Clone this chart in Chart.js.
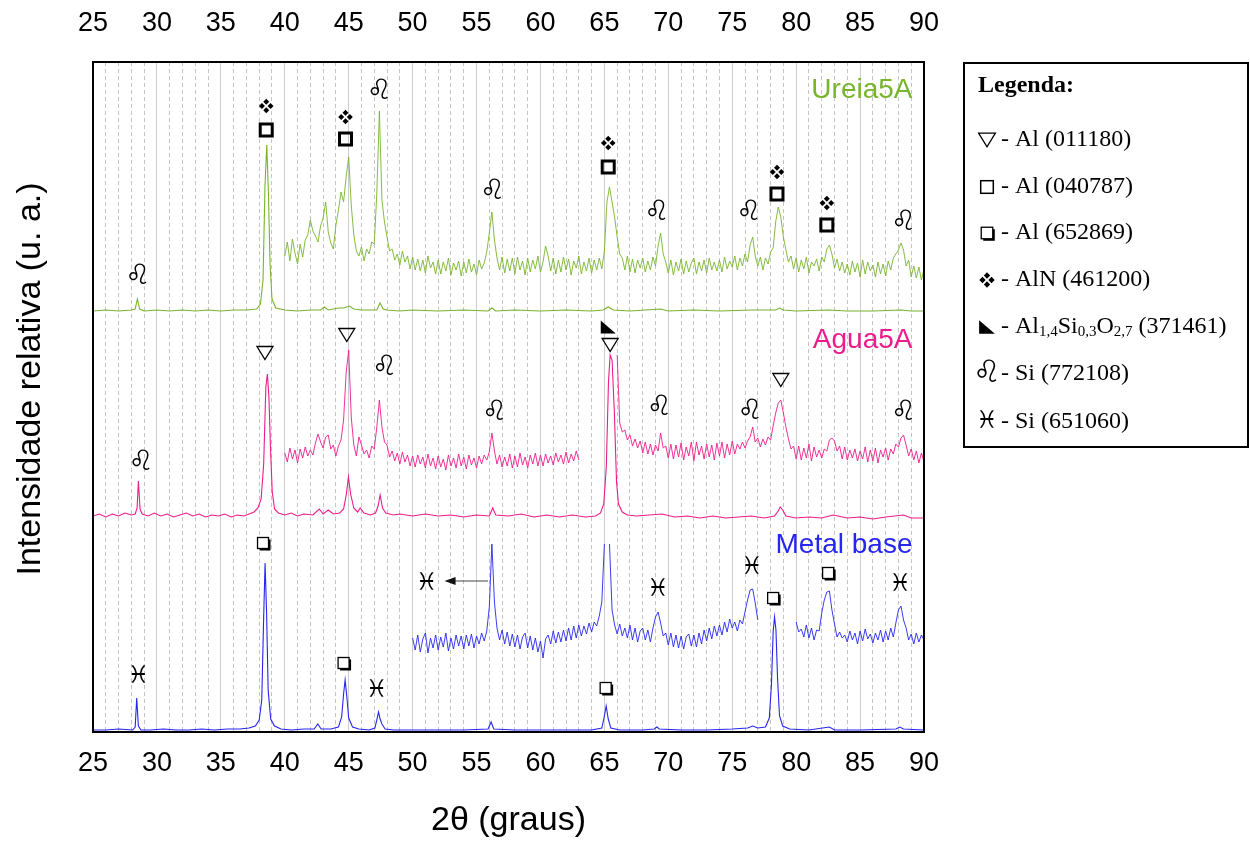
<!DOCTYPE html>
<html>
<head>
<meta charset="utf-8">
<script src="https://cdn.jsdelivr.net/npm/chart.js@4.4.1/dist/chart.umd.min.js"></script>
<style>
  html, body { margin: 0; background: #fff; }
  #wrap { width: 1250px; height: 841px; position: relative; }
</style>
</head>
<body>
<div id="wrap"><canvas id="xrdChart"></canvas></div>
<script>
// eixo 2θ
const xTicks = [25, 30, 35, 40, 45, 50, 55, 60, 65, 70, 75, 80, 85, 90];

// difratogramas completos: [2θ, intensidade]
const ureiaFull = [[25,421],[26,422],[27,421],[28.0,422],[28.3,423],[28.47,433],[28.65,423],[29,421],[30,422],[31,421],[32,422],[33,421],[34,422],[35,421],[36,422],[37,422],[37.8,423],[38.1,428],[38.3,452],[38.45,545],[38.59,587],[38.72,540],[38.85,468],[39.0,433],[39.3,424],[40,422],[41,421],[42,422],[42.8,422],[43.1,425],[43.4,422],[44.2,424],[44.6,424],[45.05,426],[45.4,423],[46,422],[47.2,422],[47.45,429],[47.7,423],[48,422],[49,421],[50,422],[52,421],[54,422],[55.9,421],[56.2,424],[56.5,421],[58,422],[60,421],[62,422],[64,421],[64.9,422],[65.3,425],[65.7,422],[67,421],[69.4,423],[70,421],[72,422],[74,421],[76.5,422],[78.4,422],[78.7,424],[79.0,422],[80,421],[82.5,422],[84,421],[86,421],[88.2,422],[89,421],[90,421]];

const aguaFull = [[25,216],[25.5,218],[26,215],[26.5,218],[27,216],[27.5,219],[28,217],[28.3,218],[28.45,224],[28.55,251],[28.68,223],[28.85,218],[29.3,216],[29.8,219],[30.3,216],[30.8,218],[31.3,215],[31.8,217],[32.3,219],[32.8,216],[33.3,218],[33.8,215],[34.3,217],[34.8,216],[35.3,218],[35.8,215],[36.3,217],[36.8,216],[37.2,218],[37.6,220],[37.9,224],[38.15,233],[38.35,268],[38.52,345],[38.64,358],[38.76,335],[38.88,285],[39.02,240],[39.2,223],[39.5,219],[40,217],[40.5,219],[41,216],[41.5,218],[42.2,217],[42.7,223],[43.0,218],[43.4,222],[43.8,218],[44.3,219],[44.6,223],[44.82,238],[44.98,255],[45.15,238],[45.4,224],[45.7,220],[45.9,224],[46.2,219],[46.7,217],[47.1,219],[47.3,226],[47.46,237],[47.65,224],[47.9,219],[48.5,217],[49,218],[50,216],[51,218],[52,216],[53,217],[54,215],[55,217],[56,216],[56.27,224],[56.5,217],[57.5,216],[58.5,218],[59.5,215],[60.5,217],[61.5,215],[62.5,217],[63.5,215],[64.3,216],[64.7,219],[64.95,228],[65.15,265],[65.32,350],[65.45,377],[65.6,372],[65.78,320],[65.95,250],[66.1,228],[66.4,220],[66.8,217],[67.5,216],[68.5,217],[69.5,218],[70.5,215],[71.5,216],[72.5,214],[73.5,216],[74.5,214],[75.5,215],[76.5,216],[77.5,214],[78.3,216],[78.6,221],[78.75,225],[78.95,222],[79.2,216],[80,214],[81,215],[82,214],[82.9,217],[84,214],[85,215],[86,213],[87,215],[88.4,217],[89,214],[90,214]];

const metalFull = [[25,2],[26,2],[27,3],[28.1,2],[28.3,5],[28.42,34],[28.55,6],[28.75,2],[29.5,2],[30.5,3],[31.5,2],[32.5,2],[33.5,3],[34.5,2],[35.5,3],[36.5,3],[37.2,4],[37.7,6],[38.0,12],[38.2,32],[38.35,115],[38.46,169],[38.58,118],[38.7,42],[38.9,13],[39.2,6],[39.7,3],[40.5,2],[41.5,3],[42.3,3],[42.58,8],[42.85,3],[43.6,3],[44.2,5],[44.45,15],[44.6,38],[44.72,52],[44.85,36],[45.0,14],[45.3,5],[45.8,3],[46.6,2],[47.05,4],[47.2,12],[47.33,20],[47.46,13],[47.6,8],[47.85,3],[48.5,2],[50,2],[52,2],[54,2],[55.9,3],[56.14,10],[56.35,3],[58,2],[60,2],[62,2],[64,2],[64.8,4],[64.97,14],[65.14,26],[65.3,13],[65.5,4],[66.2,2],[68,2],[68.9,3],[69.1,5],[69.3,3],[71,2],[73,2],[75,3],[76.2,4],[76.6,6],[77.0,4],[77.6,5],[77.9,14],[78.07,48],[78.2,100],[78.31,115],[78.42,102],[78.55,52],[78.7,16],[78.95,6],[79.5,3],[81,2],[82.6,5],[83,2],[85,2],[87.8,3],[88.1,5],[88.4,3],[90,2]];

// trechos ampliados, passo de 0,2 grau
const ZOOM_STEP = 0.2;
const ureiaZoomStart = 40;
const ureiaZoom = [
  476,490,471,493,479,468,488,475,492,497,
  512,501,496,490,506,514,530,500,489,483,
  507,522,540,530,555,575,527,497,481,476,
  485,471,483,478,490,488,539,621,532,510,
  495,481,483,472,478,467,481,470,476,463,
  475,462,473,461,472,459,476,464,470,458,
  472,458,470,461,474,457,469,462,471,456,
  470,459,473,460,468,457,472,463,469,480,
  499,520,492,474,462,475,459,473,461,474,
  458,475,462,471,457,474,460,472,463,476,
  460,470,486,476,461,474,458,472,460,475,
  462,473,457,471,464,476,458,470,461,474,
  459,472,462,474,463,481,530,545,530,515,
  495,478,474,462,476,460,473,459,472,464,
  474,460,471,462,475,466,486,499,478,470,
  459,472,457,470,461,473,458,471,460,469,
  474,458,470,461,472,459,474,462,470,461,
  472,460,475,463,471,465,476,462,474,466,
  478,470,487,495,476,466,475,462,474,468,
  480,484,510,525,515,495,482,470,476,463,
  474,460,472,463,475,459,470,466,473,461,
  475,470,483,487,478,464,473,461,470,459,
  468,457,471,460,469,455,472,458,470,461,
  467,455,470,458,468,456,471,462,474,478,
  482,489,482,466,472,455,466,454,465,452,
  463
];

const aguaZoomAStart = 40;
const aguaZoomA = [
  279,270,284,273,282,269,283,274,285,276,
  282,277,289,298,290,284,295,297,283,287,
  276,286,292,312,359,382,315,287,276,295,
  287,278,282,274,286,283,305,332,305,290,
  287,275,281,271,279,268,280,270,277,266,
  276,265,277,268,275,264,278,266,274,263,
  276,265,273,262,277,266,274,264,278,266,
  275,263,277,267,274,264,276,268,277,272,
  280,299,281,268,277,265,275,266,278,264,
  276,265,279,267,275,264,277,268,279,266,
  277,266,278,269,276,267,279,270,277,268,
  280,269,278,271,281,272
];

const aguaZoomBStart = 66;
const aguaZoomB = [
  377,309,300,302,292,297,286,293,284,291,
  279,290,278,288,277,287,281,299,284,286,
  274,288,273,287,275,289,272,285,276,290,
  271,290,277,286,273,288,275,287,272,289,
  276,290,274,288,277,291,278,288,283,290,
  284,291,295,305,290,294,285,293,287,295,
  292,306,319,329,332,319,305,293,283,286,
  273,286,272,284,274,288,271,285,275,282,
  274,283,281,292,294,291,281,286,273,285,
  272,282,274,283,271,281,273,285,270,282,
  271,284,269,282,275,284,272,283,278,288,
  285,294,297,287,276,283,272,281,269,279,
  270
];

const metalZoomAStart = 50;
const metalZoomA = [
  94,82,97,80,93,99,79,94,84,97,
  82,95,85,99,81,94,83,97,86,96,
  83,97,86,98,84,96,88,99,91,101,
  125,188,130,104,92,102,88,100,86,98,
  85,97,83,95,99,84,96,82,94,80,
  91,74,93,97,88,101,89,100,90,102,
  91,104,92,106,94,107,96,106,98,109,
  100,110,106,116,130,188,null,188,122,107,
  98,108,96,104,94,107,92,104,90,101,
  104,92,102,90,104,115,120,109,96,99,
  87,99,85,97,84,96,83,95,98,86,
  97,85,99,88,102,91,104,93,106,96,
  107,97,110,100,113,104,110,101,112,108,
  120,132,142,143,129,112
];

const metalZoomBStart = 80;
const metalZoomB = [
  110,100,103,95,107,94,104,92,102,101,
  119,132,140,141,122,108,95,100,94,97,
  90,101,92,99,88,101,91,103,93,98,
  89,99,92,102,90,101,92,104,95,109,
  122,126,112,104,92,98,88,99,90,97,
  92
];

// marcadores de fase: [2θ, intensidade, símbolo]
const ureiaMarks = [[28.5,455,'leo'],[38.55,626,'dia'],[38.55,602,'sqb'],[44.75,615,'dia'],[44.75,593,'sqb'],[47.4,640,'leo'],[56.25,540,'leo'],[65.3,589,'dia'],[65.3,565,'sqb'],[69.1,519,'leo'],[76.3,519,'leo'],[78.5,560,'dia'],[78.5,538,'sqb'],[82.4,529,'dia'],[82.4,507,'sqb'],[88.4,509,'leo']];
const aguaMarks = [[28.75,269,'leo'],[38.45,379,'tri'],[44.85,397,'tri'],[47.8,364,'leo'],[56.4,319,'leo'],[65.3,405,'ltri'],[65.45,387,'tri'],[69.3,324,'leo'],[76.4,320,'leo'],[78.8,352,'tri'],[88.4,319,'leo']];
const metalMarks = [[28.55,55,'pis'],[38.3,189,'shsq'],[44.6,69,'shsq'],[47.2,41,'pis'],[51.1,148,'pis'],[65.1,44,'shsq'],[69.2,142,'pis'],[76.55,164,'pis'],[78.2,134,'shsq'],[82.5,159,'shsq'],[88.15,147,'pis']];
const metalArrow = [[55.9,151],[52.5,151]];

// rótulos das amostras: [texto, 2θ (borda direita), intensidade]
const sampleNames = [['Ureia5A', 89.1, 642], ['Agua5A', 89.1, 392], ['Metal base', 89.1, 187]];

const legendItems = [
  ['tri', '- Al (011180)'],
  ['sq', '- Al (040787)'],
  ['shsq', '- Al (652869)'],
  ['dia', '- AlN (461200)'],
  ['ltri', null],
  ['leo', '- Si (772108)'],
  ['pis', '- Si (651060)']
];
const oxideParts = [['- Al', 0], ['1,4', 1], ['Si', 0], ['0,3', 1], ['O', 0], ['2,7', 1], [' (371461)', 0]];

const GREEN = '#78b42c', PINK = '#ec1c8c', BLUE = '#2626f2';
const SANS = '"Liberation Sans", Arial, sans-serif';
const SERIF = '"Liberation Serif", "Times New Roman", serif';

function onGrid(start, vals) {
  return vals.map((v, i) => ({ x: Math.round((start + i * ZOOM_STEP) * 100) / 100, y: v }));
}
function fromPairs(list) {
  return list.map(p => ({ x: p[0], y: p[1] }));
}

function glyph(ctx, type, cx, cy, k) {
  ctx.save();
  ctx.strokeStyle = '#000';
  ctx.fillStyle = '#000';
  if (type === 'tri') {
    const w = 16 * k, h = 13 * k;
    ctx.lineWidth = 1.3;
    ctx.beginPath();
    ctx.moveTo(cx - w / 2, cy - h / 2);
    ctx.lineTo(cx + w / 2, cy - h / 2);
    ctx.lineTo(cx, cy + h / 2);
    ctx.closePath();
    ctx.stroke();
  } else if (type === 'sqb' || type === 'sq') {
    const s = 12 * k;
    ctx.lineWidth = type === 'sqb' ? 3 : 1.5;
    ctx.strokeRect(cx - s / 2, cy - s / 2, s, s);
  } else if (type === 'shsq') {
    const s = 11 * k;
    ctx.fillRect(cx - s / 2 + 2, cy - s / 2 + 2, s, s);
    ctx.fillStyle = '#fff';
    ctx.fillRect(cx - s / 2, cy - s / 2, s, s);
    ctx.lineWidth = 1.3;
    ctx.strokeRect(cx - s / 2, cy - s / 2, s, s);
  } else if (type === 'dia') {
    const d = 4.3 * k, r = 3 * k;
    [[0, -d], [-d, 0], [d, 0], [0, d]].forEach(([dx, dy]) => {
      ctx.beginPath();
      ctx.moveTo(cx + dx, cy + dy - r);
      ctx.lineTo(cx + dx + r, cy + dy);
      ctx.lineTo(cx + dx, cy + dy + r);
      ctx.lineTo(cx + dx - r, cy + dy);
      ctx.closePath();
      ctx.fill();
    });
  } else if (type === 'ltri') {
    const w = 15 * k, h = 13 * k;
    ctx.beginPath();
    ctx.moveTo(cx - w / 2, cy - h / 2);
    ctx.lineTo(cx - w / 2, cy + h / 2);
    ctx.lineTo(cx + w / 2, cy + h / 2);
    ctx.closePath();
    ctx.fill();
  } else {
    ctx.font = Math.round((type === 'leo' ? 28 : 24) * k) + 'px "DejaVu Sans"';
    ctx.textAlign = 'center';
    ctx.textBaseline = 'middle';
    ctx.fillText(type === 'leo' ? '\u264C' : '\u2653', cx, cy);
  }
  ctx.restore();
}

const decorations = {
  id: 'decorations',
  afterDatasetsDraw(chart) {
    const { ctx, chartArea: a, scales } = chart;
    const x = scales.x, y = scales.y;

    // moldura
    ctx.save();
    ctx.strokeStyle = '#000';
    ctx.lineWidth = 2;
    ctx.strokeRect(a.left, a.top, a.right - a.left, a.bottom - a.top);
    ctx.restore();

    [ureiaMarks, aguaMarks, metalMarks].forEach(list => {
      list.forEach(m => glyph(ctx, m[2], x.getPixelForValue(m[0]), y.getPixelForValue(m[1]), 1));
    });

    // seta do Si (651060)
    const x0 = x.getPixelForValue(metalArrow[0][0]), y0 = y.getPixelForValue(metalArrow[0][1]);
    const x1 = x.getPixelForValue(metalArrow[1][0]), y1 = y.getPixelForValue(metalArrow[1][1]);
    ctx.save();
    ctx.strokeStyle = '#444';
    ctx.fillStyle = '#111';
    ctx.lineWidth = 1;
    ctx.beginPath();
    ctx.moveTo(x0, y0);
    ctx.lineTo(x1 + 8, y1);
    ctx.stroke();
    ctx.beginPath();
    ctx.moveTo(x1, y1);
    ctx.lineTo(x1 + 11, y1 - 4);
    ctx.lineTo(x1 + 11, y1 + 4);
    ctx.closePath();
    ctx.fill();
    ctx.restore();

    // nomes das amostras
    ctx.save();
    ctx.font = '28px ' + SANS;
    ctx.textAlign = 'right';
    ctx.textBaseline = 'middle';
    [GREEN, PINK, BLUE].forEach((c, i) => {
      const s = sampleNames[i];
      ctx.fillStyle = c;
      ctx.fillText(s[0], x.getPixelForValue(s[1]), y.getPixelForValue(s[2]));
    });
    ctx.restore();

    // título do eixo y
    ctx.save();
    ctx.translate(31, 379);
    ctx.rotate(-Math.PI / 2);
    ctx.font = '34px ' + SANS;
    ctx.fillStyle = '#000';
    ctx.textAlign = 'center';
    ctx.textBaseline = 'middle';
    ctx.fillText('Intensidade relativa (u. a.)', 0, 0);
    ctx.restore();

    // legenda
    ctx.save();
    ctx.strokeStyle = '#000';
    ctx.lineWidth = 2;
    ctx.strokeRect(964, 63, 284, 384);
    ctx.fillStyle = '#000';
    ctx.textBaseline = 'middle';
    ctx.textAlign = 'left';
    ctx.font = 'bold 24px ' + SERIF;
    ctx.fillText('Legenda:', 978, 86);
    const rowY = [140, 187, 233, 280, 327, 374, 422];
    legendItems.forEach((it, i) => {
      const cy = rowY[i];
      const k = it[0] === 'leo' ? 1.1 : (it[0] === 'pis' ? 1.0 : 1.05);
      glyph(ctx, it[0], 987, cy, k);
      let tx = 1001;
      if (it[1]) {
        ctx.font = '24px ' + SERIF;
        ctx.fillText(it[1], tx, cy);
      } else {
        oxideParts.forEach(([t, sub]) => {
          ctx.font = (sub ? '15px ' : '24px ') + SERIF;
          ctx.fillText(t, tx, cy + (sub ? 5 : 0));
          tx += ctx.measureText(t).width;
        });
      }
    });
    ctx.restore();
  }
};

const tickFont = { family: SANS, size: 27 };
function tickLabel(v) {
  return xTicks.includes(Math.round(v)) && Math.abs(v - Math.round(v)) < 1e-6 ? String(Math.round(v)) : '';
}

new Chart(document.getElementById('xrdChart'), {
  type: 'scatter',
  data: {
    datasets: [
      { data: onGrid(ureiaZoomStart, ureiaZoom), borderColor: GREEN, borderWidth: 0.9 },
      { data: fromPairs(ureiaFull), borderColor: GREEN, borderWidth: 1.1 },
      { data: onGrid(aguaZoomAStart, aguaZoomA), borderColor: PINK, borderWidth: 0.9 },
      { data: onGrid(aguaZoomBStart, aguaZoomB), borderColor: PINK, borderWidth: 0.9 },
      { data: fromPairs(aguaFull), borderColor: PINK, borderWidth: 1.1 },
      { data: onGrid(metalZoomAStart, metalZoomA), borderColor: BLUE, borderWidth: 0.9 },
      { data: onGrid(metalZoomBStart, metalZoomB), borderColor: BLUE, borderWidth: 0.9 },
      { data: fromPairs(metalFull), borderColor: BLUE, borderWidth: 1.1 }
    ].map(d => Object.assign({ showLine: true, pointRadius: 0, tension: 0, spanGaps: false }, d))
  },
  options: {
    responsive: true,
    maintainAspectRatio: false,
    animation: false,
    layout: { padding: { left: 0, right: 326, top: 0, bottom: 0 } },
    plugins: { legend: { display: false }, tooltip: { enabled: false } },
    scales: {
      x: {
        type: 'linear', position: 'bottom', min: 25, max: 90,
        afterFit: s => { s.height = 109; },
        ticks: { stepSize: 1, autoSkip: false, maxRotation: 0, padding: 15, color: '#000', font: tickFont, callback: tickLabel },
        grid: {
          drawTicks: false,
          color: c => (c.tick && Math.round(c.tick.value) % 5 === 0) ? '#cdcdcd' : '#c4c4c4',
          lineWidth: 1
        },
        border: { display: false, dash: c => (c.tick && Math.round(c.tick.value) % 5 !== 0) ? [4, 3] : [] },
        title: { display: true, text: '2\u03B8 (graus)', color: '#000', font: { family: SANS, size: 34 }, padding: { top: 0, bottom: 0 } }
      },
      xTop: {
        type: 'linear', axis: 'x', position: 'top', min: 25, max: 90,
        afterFit: s => { s.height = 62; },
        ticks: { stepSize: 1, autoSkip: false, maxRotation: 0, padding: 22, color: '#000', font: tickFont, callback: tickLabel },
        grid: { display: false, drawTicks: false },
        border: { display: false }
      },
      y: {
        min: 0, max: 670,
        afterFit: s => { s.width = 93; },
        ticks: { display: false },
        grid: { display: false, drawTicks: false },
        border: { display: false }
      }
    }
  },
  plugins: [decorations]
});
</script>
</body>
</html>
